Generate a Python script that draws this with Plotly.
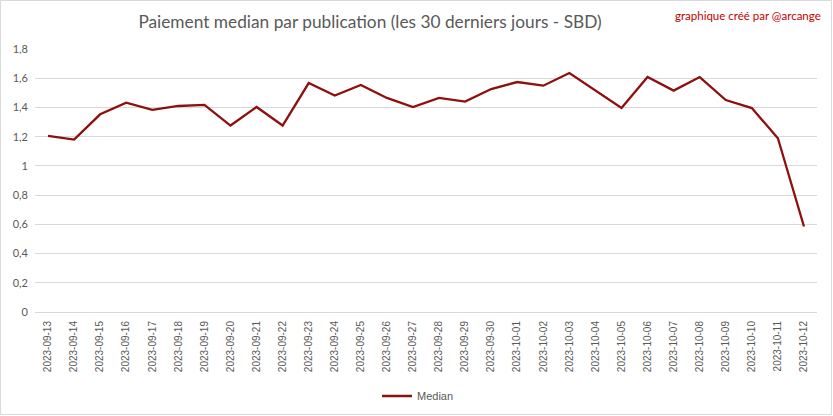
import plotly.graph_objects as go

dates = ["2023-09-13", "2023-09-14", "2023-09-15", "2023-09-16", "2023-09-17", "2023-09-18",
         "2023-09-19", "2023-09-20", "2023-09-21", "2023-09-22", "2023-09-23", "2023-09-24",
         "2023-09-25", "2023-09-26", "2023-09-27", "2023-09-28", "2023-09-29", "2023-09-30",
         "2023-10-01", "2023-10-02", "2023-10-03", "2023-10-04", "2023-10-05", "2023-10-06",
         "2023-10-07", "2023-10-08", "2023-10-09", "2023-10-10", "2023-10-11", "2023-10-12"]
median = [1.205, 1.18, 1.353, 1.433, 1.383, 1.41, 1.417, 1.276, 1.403, 1.276, 1.567, 1.481,
          1.554, 1.465, 1.403, 1.465, 1.44, 1.526, 1.574, 1.549, 1.636, 1.515, 1.396, 1.608,
          1.515, 1.608, 1.451, 1.396, 1.189, 0.585]
y_ticks = [0, 0.2, 0.4, 0.6, 0.8, 1, 1.2, 1.4, 1.6, 1.8]
y_tick_labels = ["0", "0,2", "0,4", "0,6", "0,8", "1", "1,2", "1,4", "1,6", "1,8"]

W, H = 833, 416
ml, mr, mt, mb = 35, 16, 49, 104
pw, ph = W - ml - mr, H - mt - mb

fig = go.Figure()
fig.add_trace(go.Scatter(
    x=dates, y=median, mode="lines", name="Median",
    line=dict(color="#8E0F0F", width=2.3),
))

fig.update_layout(
    width=W, height=H,
    margin=dict(l=ml, r=mr, t=mt, b=mb, autoexpand=False),
    paper_bgcolor="white", plot_bgcolor="white",
    title=dict(text="Paiement median par publication (les 30 derniers jours - SBD)",
               x=370 / W, xanchor="center", y=1 - 22 / H, yanchor="middle",
               font=dict(family="Lato", size=17.3, color="#595959")),
    showlegend=True,
    legend=dict(orientation="h", x=(418 - ml) / pw, xanchor="center",
                y=-(396 - mt - ph) / ph, yanchor="middle",
                font=dict(family="Liberation Sans", size=11, color="#595959"),
                bgcolor="rgba(0,0,0,0)"),
    xaxis=dict(type="category", tickangle=-90, showgrid=False, showline=True,
               linecolor="#D9D9D9", linewidth=1, ticks="", automargin=False,
               ticklabelstandoff=4,
               tickfont=dict(family="Liberation Sans", size=10, color="#595959"),
               range=[-0.5, len(dates) - 0.5], fixedrange=True),
    yaxis=dict(range=[0, 1.8], tickvals=y_ticks, ticktext=y_tick_labels,
               showgrid=True, gridcolor="#D9D9D9", gridwidth=1, zeroline=False,
               ticks="", ticklabelstandoff=6, automargin=False,
               tickfont=dict(family="Lato", size=11, color="#595959"), fixedrange=True),
)

fig.add_annotation(text="graphique créé par @arcange", xref="paper", yref="paper",
                   x=(823 - ml) / pw, xanchor="right", y=1 + (mt - 15) / ph, yanchor="middle",
                   showarrow=False, font=dict(family="Lato", size=11.5, color="#C00000"))

# outer chart border
fig.add_shape(type="rect", xref="paper", yref="paper",
              x0=(0.5 - ml) / pw, x1=(W - 1.5 - ml) / pw,
              y0=-(H - 1.5 - mt - ph) / ph, y1=1 + (mt - 0.5) / ph,
              line=dict(color="#D9D9D9", width=1), layer="below")

fig.write_html("out.html", config={"displayModeBar": False},
               post_script="document.body.style.margin='0';document.body.style.overflow='hidden';")
